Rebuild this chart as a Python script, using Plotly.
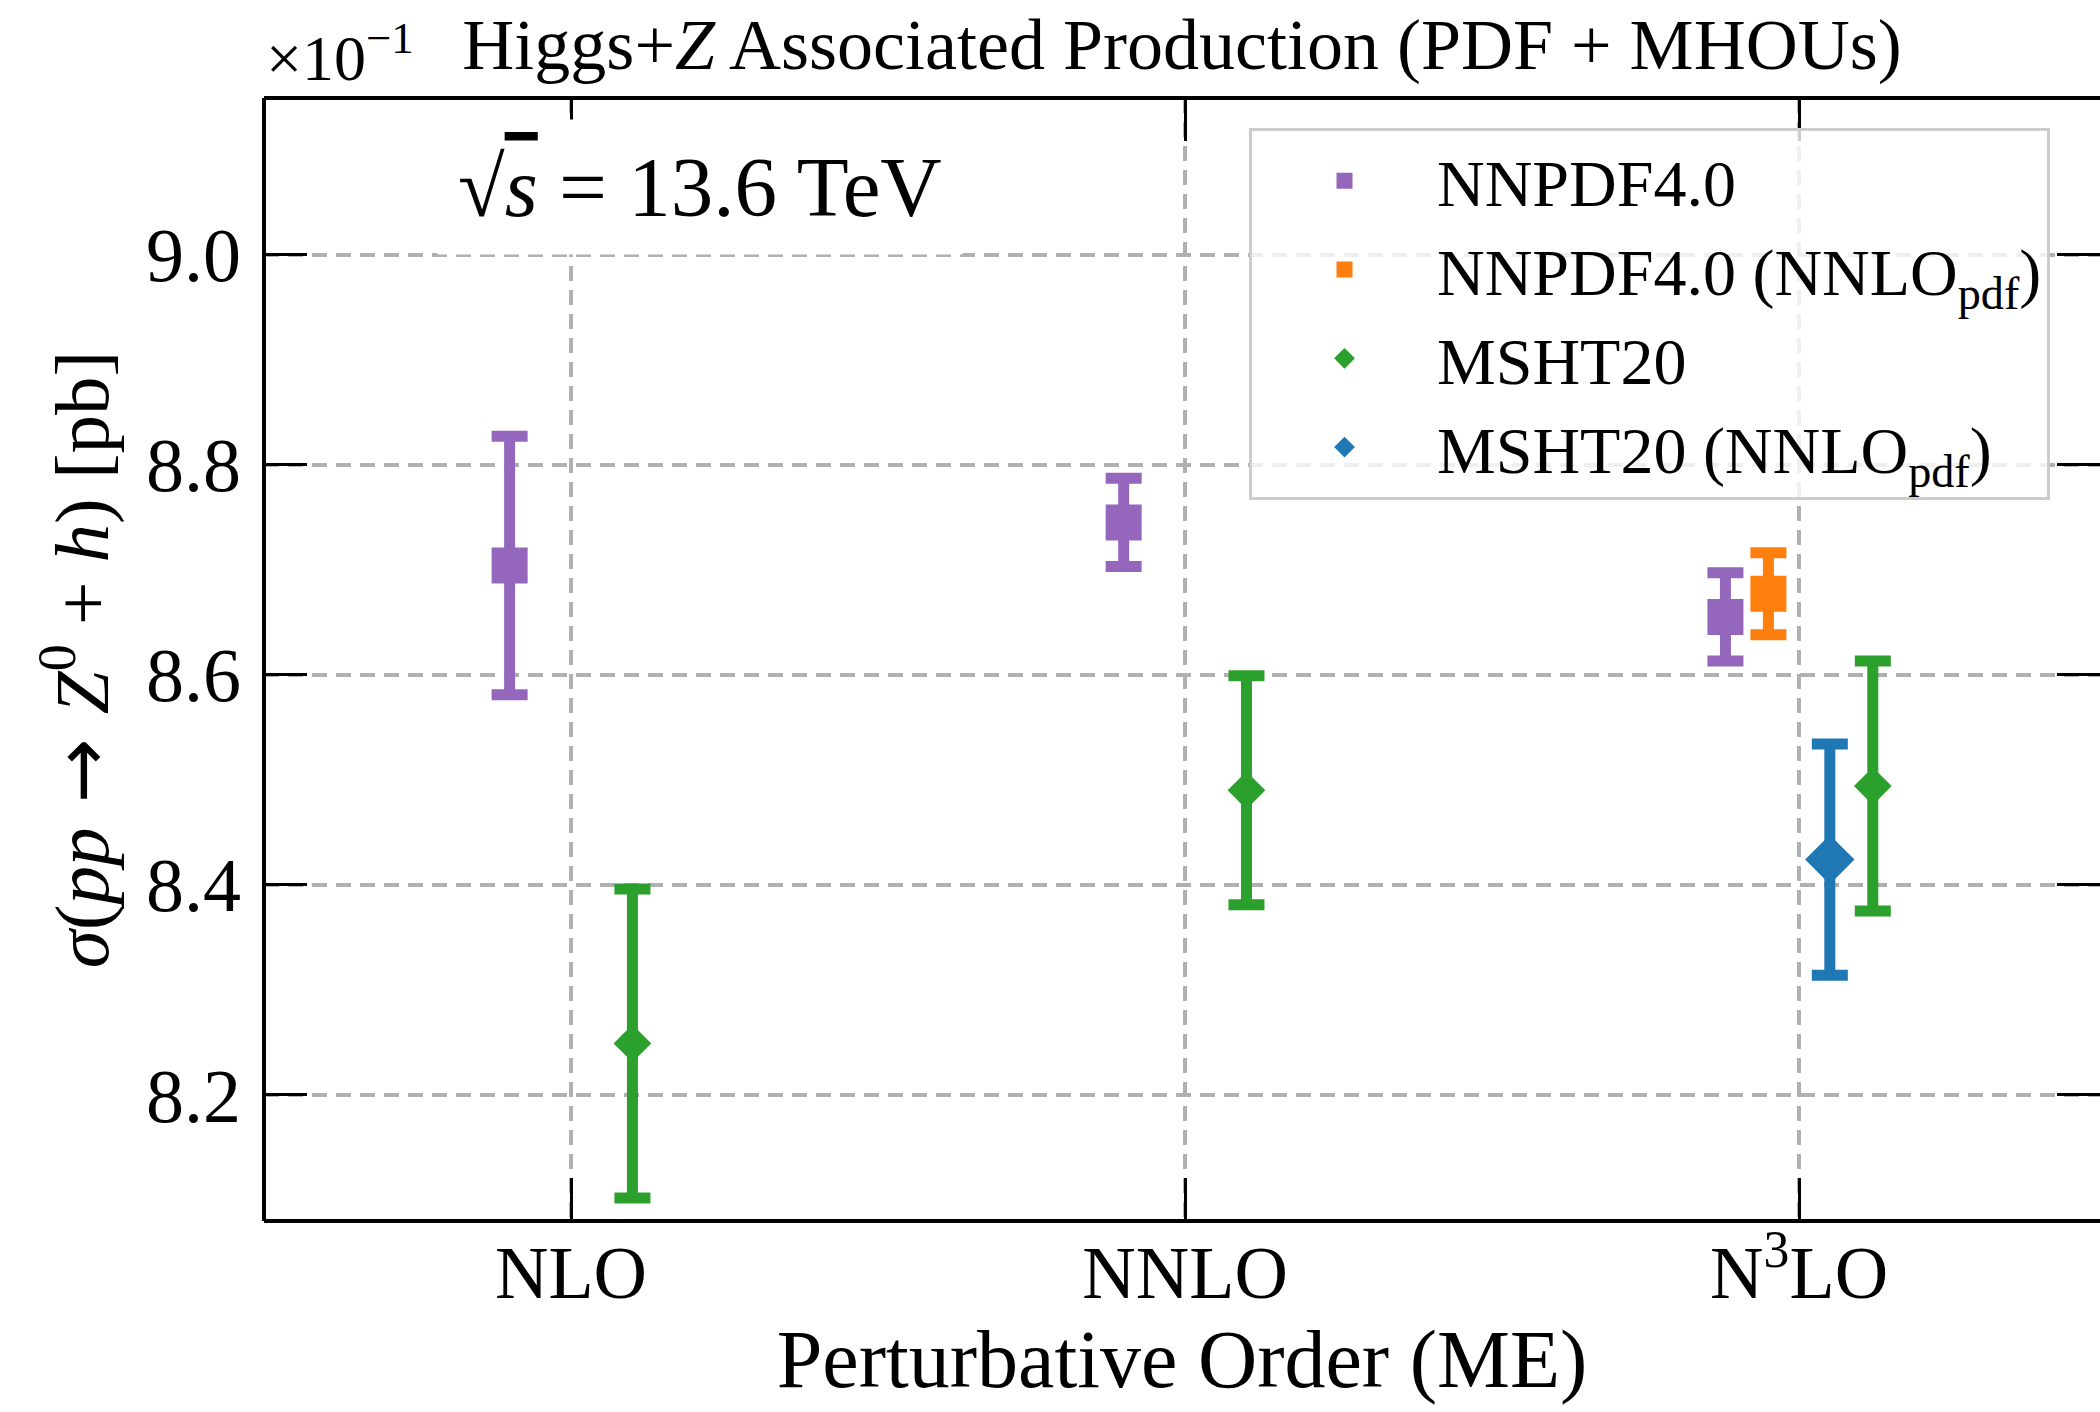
import plotly.graph_objects as go

# ---------------- data ----------------
orders = ["NLO", "NNLO", "N<sup>3</sup>LO"]
order_index = [0, 1, 2]

nnpdf40_orders = [0, 1, 2]
nnpdf40_xsec = [8.704, 8.745, 8.655]
nnpdf40_err = [0.123, 0.042, 0.042]

nnpdf40_nnlopdf_orders = [2]
nnpdf40_nnlopdf_xsec = [8.677]
nnpdf40_nnlopdf_err = [0.039]

msht20_orders = [0, 1, 2]
msht20_xsec = [8.249, 8.490, 8.494]
msht20_err = [0.147, 0.109, 0.119]

msht20_nnlopdf_orders = [2]
msht20_nnlopdf_xsec = [8.424]
msht20_nnlopdf_err = [0.110]

# ---------------- styling ----------------
FONT = "Liberation Serif"
NB = "\u00a0"
offsets = {
    "nnpdf": {0: -0.10, 1: -0.10, 2: -0.12},
    "nnpdf_pdf": {2: -0.05},
    "msht": {0: 0.10, 1: 0.10, 2: 0.12},
    "msht_pdf": {2: 0.05},
}

series = [
    ("NNPDF4.0", nnpdf40_orders, nnpdf40_xsec, nnpdf40_err, "nnpdf", "#9467bd", "square", 36),
    ("NNPDF4.0 (NNLO<sub>pdf</sub>)", nnpdf40_nnlopdf_orders, nnpdf40_nnlopdf_xsec,
     nnpdf40_nnlopdf_err, "nnpdf_pdf", "#ff7f0e", "square", 36),
    ("MSHT20", msht20_orders, msht20_xsec, msht20_err, "msht", "#2ca02c", "diamond", 29),
    ("MSHT20 (NNLO<sub>pdf</sub>)", msht20_nnlopdf_orders, msht20_nnlopdf_xsec,
     msht20_nnlopdf_err, "msht_pdf", "#1f77b4", "diamond", 38),
]

fig = go.Figure()
for name, ords, vals, errs, key, color, symbol, size in series:
    xs = [o + offsets[key][o] for o in ords]
    fig.add_trace(go.Scatter(
        x=xs, y=vals, mode="markers", name=name,
        marker=dict(symbol=symbol, size=size, color=color, line=dict(width=0)),
        error_y=dict(type="data", array=errs, symmetric=True, color=color,
                     thickness=11, width=18),
    ))

grid = dict(showgrid=True, gridcolor="#b0b0b0", gridwidth=3.5, griddash="15px,9px")

arrow = "<span style='font-family:DejaVu Sans'>" + NB + "→" + NB + "</span>"
ytitle = "<i>σ</i>(<i>pp</i>" + arrow + "<i>Z</i><sup>0</sup>" + NB + "+" + NB + "<i>h</i>)" + NB + "[pb]"

fig.update_layout(
    width=2100, height=1412,
    margin=dict(l=264, r=0, t=98, b=191),
    paper_bgcolor="white", plot_bgcolor="white",
    font=dict(family=FONT, size=74, color="black"),
    title=dict(text="Higgs+<i>Z</i> Associated Production (PDF" + NB + "+" + NB + "MHOUs)",
               x=0.5, xref="paper", xanchor="center",
               y=1 - 44 / 1412, yref="container", yanchor="middle",
               font=dict(family=FONT, size=72, color="black")),
    xaxis=dict(range=[-0.5, 2.49], tickvals=order_index, ticktext=orders,
               ticks="inside", ticklen=43, tickwidth=3, tickcolor="black",
               mirror="ticks", showline=False, zeroline=False,
               ticklabelstandoff=2, tickfont=dict(size=74),
               title=dict(text="Perturbative Order (ME)", standoff=14,
                          font=dict(size=82)),
               **grid),
    yaxis=dict(range=[8.08, 9.149], tickvals=[8.2, 8.4, 8.6, 8.8, 9.0],
               ticktext=["8.2", "8.4", "8.6", "8.8", "9.0"],
               ticks="inside", ticklen=43, tickwidth=3, tickcolor="black",
               mirror="ticks", showline=False, zeroline=False,
               ticklabelstandoff=22, tickfont=dict(size=76),
               title=dict(text=ytitle, standoff=12, font=dict(size=77)),
               **grid),
    legend=dict(x=0.5365, y=0.973, xanchor="left", yanchor="top",
                bgcolor="rgba(255,255,255,0.8)", bordercolor="#cccccc",
                borderwidth=3, font=dict(family=FONT, size=66),
                itemwidth=175, traceorder="normal"),
    showlegend=True,
)

# spines (left, bottom, top); right spine lies outside the canvas in the reference
for x0, y0, x1, y1 in [(0, 0, 0, 1), (0, 0, 1, 0), (0, 1, 1, 1)]:
    fig.add_shape(type="line", xref="paper", yref="paper", x0=x0, y0=y0, x1=x1, y1=y1,
                  line=dict(color="black", width=4), layer="above")

fig.add_annotation(text="√<span style='text-decoration:overline'><i>s</i></span>" + NB + "=" + NB + "13.6 TeV",
                   xref="paper", yref="paper", x=0.2375, y=0.9207,
                   xanchor="center", yanchor="middle", showarrow=False,
                   bgcolor="white", borderpad=20,
                   font=dict(family=FONT, size=85, color="black"))

fig.add_annotation(text="×10<sup>−1</sup>", xref="paper", yref="paper",
                   x=0.0, y=1.0, xanchor="left", yanchor="bottom", yshift=2,
                   showarrow=False, font=dict(family=FONT, size=64, color="black"))

fig.write_html("out.html")
